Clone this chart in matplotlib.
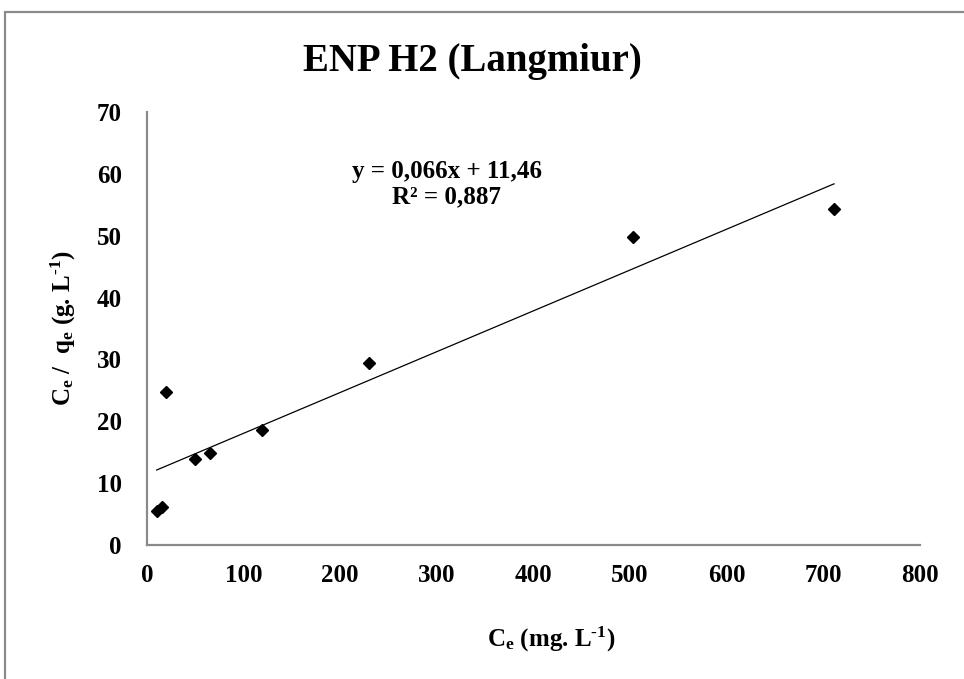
import numpy as np
import matplotlib
matplotlib.use("Agg")
import matplotlib.pyplot as plt
from matplotlib.patches import Rectangle

# data
ce = [10, 16, 20, 50, 65, 119, 230, 503, 711]
ce_qe = [5.5, 6.1, 24.7, 13.9, 14.9, 18.6, 29.4, 49.8, 54.3]
slope = 0.066
intercept = 11.46
r2 = 0.887
x_ticks = [0, 100, 200, 300, 400, 500, 600, 700, 800]
y_ticks = [0, 10, 20, 30, 40, 50, 60, 70]

plt.rcParams["font.family"] = ["Liberation Serif", "DejaVu Serif"]
plt.rcParams["font.weight"] = "bold"
plt.rcParams["axes.labelweight"] = "bold"
plt.rcParams["mathtext.fontset"] = "custom"
plt.rcParams["mathtext.rm"] = "Liberation Serif:bold"
plt.rcParams["mathtext.it"] = "Liberation Serif:bold"
plt.rcParams["mathtext.bf"] = "Liberation Serif:bold"

fig = plt.figure(figsize=(9.64, 6.79), dpi=100)
ax = fig.add_axes([147 / 964, 1 - 545 / 679, 773 / 964, 433 / 679])

# outer frame (cut at right and bottom like the screenshot)
fig.patches.append(Rectangle((5 / 964, -0.5), 2, 1.5 - 12 / 679, transform=fig.transFigure,
                             fill=False, edgecolor="#8a8a8a", linewidth=1.6))

ax.plot(ce, ce_qe, linestyle="none", marker="D", markersize=6.5, color="black")

xl = np.array([min(ce), max(ce)])
ax.plot(xl, slope * xl + intercept, color="black", linewidth=0.9)

ax.set_xlim(0, 800)
ax.set_ylim(0, 70)
ax.set_xticks(x_ticks)
ax.set_yticks(y_ticks)
ax.tick_params(length=0, labelsize=18, pad=14)
ax.tick_params(axis="y", pad=18)
for s in ["top", "right"]:
    ax.spines[s].set_visible(False)
for s in ["left", "bottom"]:
    ax.spines[s].set_color("#8a8a8a")
    ax.spines[s].set_linewidth(1.6)

ax.set_xlabel("C$_e$ (mg. L$^{\u2010 1}$)", fontsize=18, fontweight="bold")
ax.xaxis.set_label_coords((551 - 147) / 773, -0.185)
ax.set_ylabel("C$_e$ /  q$_e$ (g. L$^{\u2010 1}$)", fontsize=18, fontweight="bold")
ax.yaxis.set_label_coords(-0.089, 0.5)

eq = "y = " + f"{slope:.3f}".replace(".", ",") + "x + " + f"{intercept:.2f}".replace(".", ",")
r2_txt = "R² = " + f"{r2:.3f}".replace(".", ",")
ax.text(310, 58.3, eq + "\n" + r2_txt, ha="center", va="center", fontsize=18, linespacing=1.15)

fig.text(472 / 964, 1 - 62 / 679, "ENP H2 (Langmiur)", ha="center", va="center",
         fontsize=28, fontweight="bold")

plt.savefig("out.png", dpi=100)
